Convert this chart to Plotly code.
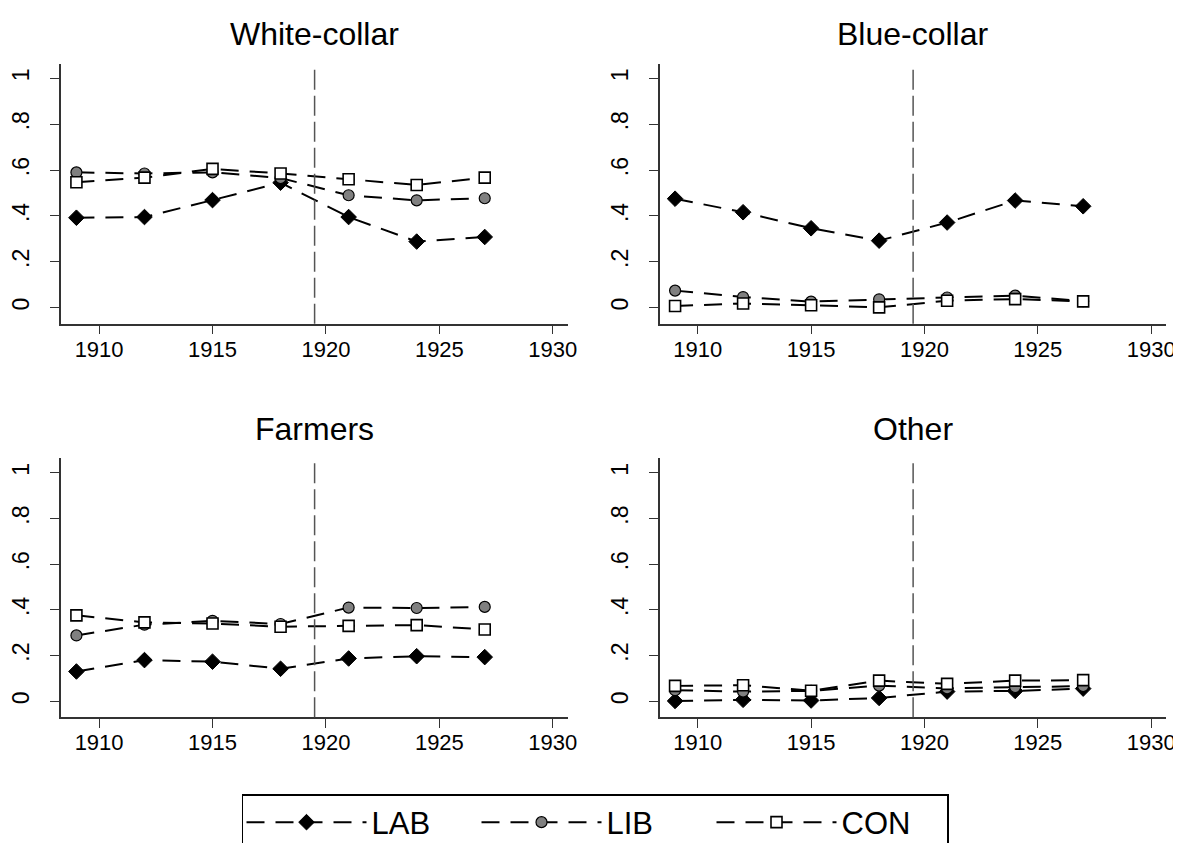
import plotly.graph_objects as go

years = [1909, 1912, 1915, 1918, 1921, 1924, 1927]
panels = ["White-collar", "Blue-collar", "Farmers", "Other"]
parties = ["LAB", "LIB", "CON"]

lab = {
    "White-collar": [0.392, 0.395, 0.469, 0.545, 0.395, 0.288, 0.308],
    "Blue-collar": [0.475, 0.416, 0.346, 0.292, 0.371, 0.467, 0.442],
    "Farmers": [0.130, 0.180, 0.173, 0.142, 0.187, 0.197, 0.193],
    "Other": [0.001, 0.006, 0.003, 0.014, 0.042, 0.045, 0.055],
}
lib = {
    "White-collar": [0.590, 0.585, 0.590, 0.565, 0.490, 0.468, 0.477],
    "Blue-collar": [0.074, 0.046, 0.026, 0.036, 0.044, 0.052, 0.028],
    "Farmers": [0.288, 0.335, 0.352, 0.338, 0.410, 0.408, 0.413],
    "Other": [0.048, 0.042, 0.045, 0.068, 0.056, 0.062, 0.066],
}
con = {
    "White-collar": [0.547, 0.567, 0.605, 0.585, 0.560, 0.535, 0.567],
    "Blue-collar": [0.007, 0.018, 0.010, 0.001, 0.030, 0.037, 0.027],
    "Farmers": [0.376, 0.345, 0.340, 0.326, 0.330, 0.333, 0.314],
    "Other": [0.067, 0.070, 0.046, 0.090, 0.076, 0.090, 0.092],
}
x_ticks = [1910, 1915, 1920, 1925, 1930]
y_ticks = [0, 0.2, 0.4, 0.6, 0.8, 1]
y_ticktext = ["0", ".2", ".4", ".6", ".8", "1"]
break_year = 1919.5

W, H = 1181, 843
FONT = "Arial, Liberation Sans, Helvetica, sans-serif"

# pixel boxes (left, right, top, bottom)
boxes = [
    (51.7, 563, 56, 316),
    (656, 1167, 56, 316),
    (51.7, 563, 451, 710),
    (656, 1167, 451, 710),
]

styles = {
    "LAB": dict(symbol="diamond", size=12, color="black", line=dict(color="black", width=1)),
    "LIB": dict(symbol="circle", size=11, color="#808080", line=dict(color="black", width=1.2)),
    "CON": dict(symbol="square", size=11, color="white", line=dict(color="black", width=1.6)),
}
series = {"LAB": lab, "LIB": lib, "CON": con}

fig = go.Figure()
layout = {}
for i, (panel, box) in enumerate(zip(panels, boxes)):
    l, r, t, b = box
    n = "" if i == 0 else str(i + 1)
    xa, ya = "xaxis" + n, "yaxis" + n
    for p in parties:
        fig.add_trace(go.Scatter(
            x=years, y=series[p][panel], mode="lines+markers", name=p,
            legendgroup=p, showlegend=(i == 0),
            xaxis="x" + n, yaxis="y" + n,
            line=dict(color="black", width=2, dash="18px,11px"),
            marker=styles[p],
        ))
    layout[xa] = dict(
        domain=[l / W, r / W], anchor="y" + n, range=[1908.33, 1930.66],
        tickvals=x_ticks, ticks="outside", ticklen=9, tickwidth=1.3, tickcolor="#333",
        showline=True, linecolor="#333", linewidth=1.5, showgrid=False, zeroline=False,
        ticklabelstandoff=-4,
        tickfont=dict(size=22, color="black", family=FONT),
    )
    layout[ya] = dict(
        domain=[1 - b / H, 1 - t / H], anchor="x" + n, range=[-0.07, 1.063],
        tickvals=y_ticks, ticktext=y_ticktext, tickangle=-90,
        ticks="outside", ticklen=9, tickwidth=1.3, tickcolor="#333",
        showline=True, linecolor="#333", linewidth=1.5, showgrid=False, zeroline=False,
        ticklabelstandoff=12,
        tickfont=dict(size=23, color="black", family=FONT),
    )
    fig.add_shape(type="line", xref="x" + n, yref="y" + n + " domain",
                  x0=break_year, x1=break_year, y0=0, y1=1,
                  line=dict(color="#555", width=1.5, dash="20px,6px"))
    fig.add_annotation(text=panel, xref="paper", yref="paper",
                       x=(l + r) / 2 / W, y=1 - (t - 30) / H,
                       xanchor="center", yanchor="middle", showarrow=False,
                       font=dict(size=32, color="black", family=FONT))

fig.update_layout(
    width=W, height=H,
    margin=dict(l=0, r=0, t=0, b=0),
    paper_bgcolor="white", plot_bgcolor="white",
    font=dict(family=FONT, color="black"),
    legend=dict(orientation="h", x=0.5, xanchor="center", y=1 - 787 / H, yanchor="top",
                bordercolor="black", borderwidth=1.5, bgcolor="white",
                font=dict(size=31, family=FONT, color="black"),
                itemwidth=120, entrywidth=100, entrywidthmode="pixels",
                itemsizing="trace"),
    **layout,
)

fig.write_html("out.html")
